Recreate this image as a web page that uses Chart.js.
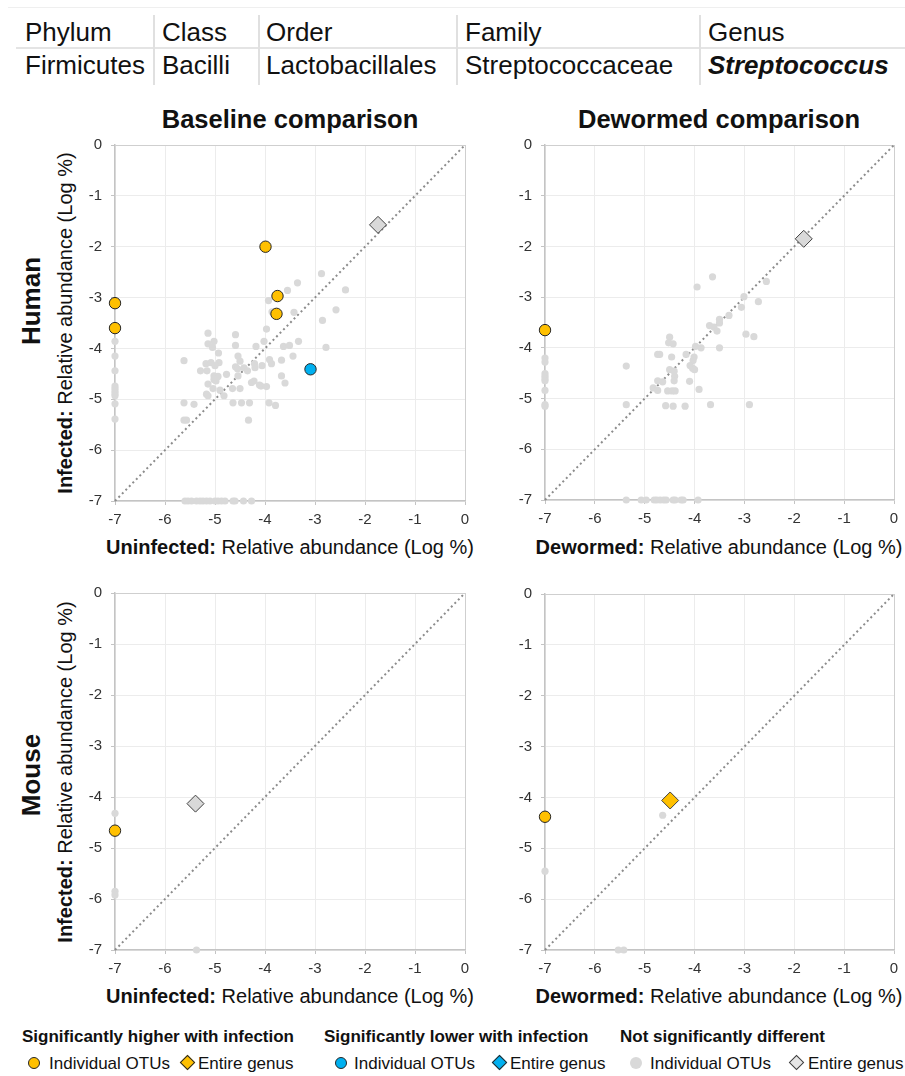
<!DOCTYPE html>
<html><head><meta charset="utf-8">
<script src="https://cdn.jsdelivr.net/npm/chart.js@4.4.0/dist/chart.umd.min.js"></script>
<style>
html,body{margin:0;padding:0;background:#fff;}
body{width:905px;height:1076px;position:relative;overflow:hidden;font-family:"Liberation Sans",Arial,Helvetica,sans-serif;color:#111;}
.a{position:absolute;white-space:nowrap;}
.tb{font-size:26px;line-height:26px;color:#111;}
.hl{position:absolute;background:#e0e0e0;}
.ttl{font-size:25.5px;line-height:26px;font-weight:bold;text-align:center;width:360px;}
.xt{font-size:20px;line-height:20px;text-align:center;width:420px;color:#111;}
.yt{font-size:20px;line-height:20px;text-align:center;width:400px;height:20px;transform:rotate(-90deg);color:#111;}
.row{font-size:26px;line-height:26px;font-weight:bold;text-align:center;width:140px;height:26px;transform:rotate(-90deg);}
.lh{font-size:17px;line-height:17px;font-weight:bold;}
.li{font-size:17px;line-height:17px;}
.mc{position:absolute;width:12px;height:12px;box-sizing:border-box;border-radius:50%;}
.md{position:absolute;width:11px;height:11px;box-sizing:border-box;transform:rotate(45deg);}
canvas{position:absolute;}
</style></head>
<body>
<!-- taxonomy table -->
<div class="hl" style="left:8px;top:7px;width:897px;height:1px;background:#efefef"></div>
<div class="hl" style="left:16px;top:47px;width:889px;height:2px;background:#e4e4e4"></div>
<div class="hl" style="left:153px;top:15px;width:1.5px;height:70px"></div>
<div class="hl" style="left:258px;top:15px;width:1.5px;height:70px"></div>
<div class="hl" style="left:456px;top:15px;width:1.5px;height:70px"></div>
<div class="hl" style="left:699px;top:15px;width:1.5px;height:70px"></div>
<div id="tbl"></div>

<div class="a ttl" style="left:110px;top:106px">Baseline comparison</div>
<div class="a ttl" style="left:539px;top:106px">Dewormed comparison</div>

<div class="a row" style="left:-39px;top:288px">Human</div>
<div class="a row" style="left:-39px;top:762px">Mouse</div>

<div class="a yt" style="left:-135px;top:313px"><b>Infected:</b> Relative abundance (Log %)</div>
<div class="a yt" style="left:-135px;top:762px"><b>Infected:</b> Relative abundance (Log %)</div>

<div class="a xt" style="left:80px;top:537px"><b>Uninfected:</b> Relative abundance (Log %)</div>
<div class="a xt" style="left:509px;top:537px"><b>Dewormed:</b> Relative abundance (Log %)</div>
<div class="a xt" style="left:80px;top:986px"><b>Uninfected:</b> Relative abundance (Log %)</div>
<div class="a xt" style="left:509px;top:986px"><b>Dewormed:</b> Relative abundance (Log %)</div>

<canvas id="c1" width="410" height="400" style="left:70px;top:135px;width:410px;height:400px"></canvas>
<canvas id="c2" width="410" height="400" style="left:500px;top:135px;width:410px;height:400px"></canvas>
<canvas id="c3" width="410" height="400" style="left:70px;top:584px;width:410px;height:400px"></canvas>
<canvas id="c4" width="410" height="400" style="left:500px;top:584px;width:410px;height:400px"></canvas>

<!-- legend -->
<div class="a lh" style="left:22px;top:1028px">Significantly higher with infection</div>
<div class="a lh" style="left:324px;top:1028px">Significantly lower with infection</div>
<div class="a lh" style="left:620px;top:1028px">Not significantly different</div>
<div class="mc" style="left:28px;top:1057px;background:#ffc000;border:1px solid #262626"></div>
<div class="a li" style="left:49px;top:1055px">Individual OTUs</div>
<div class="md" style="left:182px;top:1057px;background:#ffc000;border:1px solid #262626"></div>
<div class="a li" style="left:198px;top:1055px">Entire genus</div>
<div class="mc" style="left:335px;top:1057px;background:#00b0f0;border:1px solid #262626"></div>
<div class="a li" style="left:354px;top:1055px">Individual OTUs</div>
<div class="md" style="left:494px;top:1057px;background:#00b0f0;border:1px solid #262626"></div>
<div class="a li" style="left:510px;top:1055px">Entire genus</div>
<div class="mc" style="left:630px;top:1057px;background:#d9d9d9"></div>
<div class="a li" style="left:650px;top:1055px">Individual OTUs</div>
<div class="md" style="left:791px;top:1057px;background:#e6e6e6;border:1px solid #404040"></div>
<div class="a li" style="left:808px;top:1055px">Entire genus</div>

<script>
// ---------- table text ----------
const taxRanks = ['Phylum','Class','Order','Family','Genus'];
const taxNames = ['Firmicutes','Bacilli','Lactobacillales','Streptococcaceae','Streptococcus'];

// ---------- axis ----------
const axisMin = -7, axisMax = 0, axisStep = 1;
const diagonal = [[-7,-7],[0,0]];

// ---------- Human, baseline comparison (x: uninfected, y: infected) ----------
const hbHigherOTUs = [[-3.99,-2.00],[-3.75,-2.97],[-3.77,-3.32],[-7,-3.11],[-7,-3.60]];
const hbLowerOTUs = [[-3.09,-4.41]];
const hbGenusNS = [[-1.74,-1.57]];
const hbOTUsNS = [
 [-7,-3.86],[-7,-4.15],[-7,-4.44],[-7,-4.74],[-7,-4.79],[-7,-4.84],[-7,-4.89],[-7,-4.93],[-7,-5.09],[-7,-5.39],
 [-5.60,-7],[-5.54,-7],[-5.47,-7],[-5.37,-7],[-5.30,-7],[-5.24,-7],[-5.17,-7],[-5.10,-7],[-5.00,-7],[-4.94,-7],[-4.87,-7],[-4.80,-7],[-4.64,-7],[-4.60,-7],[-4.43,-7],[-4.27,-7],
 [-2.87,-2.53],[-3.35,-2.71],[-3.55,-2.86],[-2.39,-2.85],[-3.93,-3.06],[-3.42,-3.29],[-3.86,-3.28],[-2.58,-3.24],[-2.85,-3.45],[-3.97,-3.62],
 [-5.14,-3.70],[-4.59,-3.73],[-5.02,-3.86],[-5.14,-3.91],[-5.05,-3.98],[-4.59,-3.94],[-4.02,-3.86],[-4.18,-3.96],[-3.63,-3.96],[-3.51,-3.94],
 [-3.33,-3.86],[-2.78,-3.98],[-4.93,-4.09],[-4.54,-4.15],[-3.44,-4.15],[-5.62,-4.24],[-5.18,-4.30],[-5.08,-4.28],[-4.92,-4.28],[-5.00,-4.34],
 [-4.50,-4.25],[-4.59,-4.36],[-4.55,-4.40],[-4.42,-4.38],[-4.35,-4.44],[-4.21,-4.30],[-4.20,-4.38],[-4.06,-4.34],[-3.91,-4.22],[-3.87,-4.30],
 [-3.67,-4.23],[-5.29,-4.44],[-5.16,-4.44],[-5.02,-4.54],[-4.94,-4.55],[-4.77,-4.51],[-4.54,-4.54],[-5.02,-4.61],[-4.98,-4.64],[-5.14,-4.70],
 [-5.04,-4.79],[-4.90,-4.82],[-4.65,-4.79],[-4.50,-4.79],[-4.27,-4.67],[-4.22,-4.64],[-4.11,-4.72],[-4.08,-4.74],[-3.97,-4.75],[-3.67,-4.54],
 [-3.60,-4.68],[-5.17,-4.90],[-5.14,-4.93],[-4.82,-4.93],[-5.62,-5.07],[-5.42,-5.10],[-4.64,-5.07],[-4.47,-5.07],[-4.31,-5.07],[-3.92,-5.07],
 [-3.79,-5.12],[-5.62,-5.41],[-5.57,-5.41],[-4.33,-5.41]
];

// ---------- Human, dewormed comparison (x: dewormed, y: infected) ----------
const hdHigherOTUs = [[-7,-3.65]];
const hdGenusNS = [[-1.81,-1.85]];
const hdOTUsNS = [
 [-7,-4.20],[-7,-4.28],[-7,-4.51],[-7,-4.56],[-7,-4.61],[-7,-4.65],[-7,-4.84],[-7,-5.12],[-7,-5.15],
 [-5.37,-7],[-5.07,-7],[-4.97,-7],[-4.81,-7],[-4.76,-7],[-4.69,-7],[-4.62,-7],[-4.57,-7],[-4.43,-7],[-4.39,-7],[-4.27,-7],[-4.23,-7],[-3.93,-7],
 [-3.64,-2.60],[-3.95,-2.80],[-2.56,-2.69],[-3.01,-2.99],[-2.72,-3.09],[-3.06,-3.20],[-3.31,-3.36],[-3.50,-3.44],[-3.50,-3.51],[-3.70,-3.56],
 [-3.61,-3.59],[-3.55,-3.67],[-2.97,-3.73],[-2.81,-3.78],[-4.50,-3.79],[-4.52,-3.90],[-4.43,-3.92],[-3.98,-3.97],[-3.87,-4.00],[-3.50,-4.00],
 [-4.74,-4.13],[-4.70,-4.13],[-4.46,-4.18],[-4.17,-4.13],[-4.01,-4.18],[-4.03,-4.25],[-4.09,-4.35],[-4.04,-4.40],[-4.00,-4.43],[-5.37,-4.36],
 [-4.50,-4.43],[-4.41,-4.46],[-4.40,-4.56],[-4.74,-4.65],[-4.64,-4.67],[-4.41,-4.65],[-4.10,-4.66],[-4.83,-4.79],[-4.74,-4.84],[-4.54,-4.85],
 [-4.45,-4.85],[-4.39,-4.85],[-3.91,-4.82],[-5.37,-5.12],[-4.58,-5.14],[-4.43,-5.15],[-4.19,-5.15],[-3.68,-5.12],[-2.90,-5.12]
];

// ---------- Mouse, baseline comparison ----------
const mbHigherOTUs = [[-7,-4.66]];
const mbGenusNS = [[-5.39,-4.13]];
const mbOTUsNS = [[-7,-4.32],[-7,-5.85],[-7,-5.92],[-5.37,-7]];

// ---------- Mouse, dewormed comparison ----------
const mdHigherOTUs = [[-7,-4.38]];
const mdGenusHigher = [[-4.49,-4.06]];
const mdOTUsNS = [[-4.64,-4.35],[-7,-5.45],[-5.53,-7],[-5.42,-7]];

// ---------- styles ----------
const FONT = '"Liberation Sans", Arial, Helvetica, sans-serif';
const COL_HIGH = '#ffc000', COL_LOW = '#00b0f0', COL_NS = '#d9d9d9';
Chart.defaults.font.family = FONT;

// table
(function(){
  const lefts = [25, 162, 266, 465, 708];
  let h = '';
  taxRanks.forEach((t,i)=>{ h += `<div class="a tb" style="left:${lefts[i]}px;top:19px">${t}</div>`; });
  taxNames.forEach((t,i)=>{
    const st = i===4 ? 'font-weight:bold;font-style:italic;' : '';
    h += `<div class="a tb" style="left:${lefts[i]}px;top:52px;${st}">${t}</div>`;
  });
  document.getElementById('tbl').innerHTML = h;
})();

const pts = arr => arr.map(p => ({x:p[0], y:p[1]}));

function otuSet(arr, color){
  return {data: pts(arr), pointStyle:'circle', pointRadius:5.7, pointBackgroundColor:color,
          pointBorderColor:'#262626', pointBorderWidth:1, clip:false};
}
function nsSet(arr){
  return {data: pts(arr), pointStyle:'circle', pointRadius:3.6, pointBackgroundColor:COL_NS,
          pointBorderWidth:0, pointBorderColor:COL_NS, clip:false};
}
function genusSet(arr, color){
  return {data: pts(arr), pointStyle:'rectRot', pointRadius:8.5, pointBackgroundColor:color,
          pointBorderColor:'#404040', pointBorderWidth:1, clip:false};
}
function diagSet(){
  return {data: pts(diagonal), showLine:true, borderColor:'#8c8c8c', borderWidth:2,
          borderDash:[2,3], pointRadius:0, fill:false, clip:false};
}

const gridColor = ctx => (ctx.tick && ctx.tick.value === axisMax) ? '#cfcfcf' : '#ececec';

function config(sets){
  return {
    type:'scatter',
    data:{datasets: sets()},
    options:{
      responsive:false, maintainAspectRatio:false, animation:false, events:[],
      layout:{padding:{top:10,right:15,left:0,bottom:0}},
      plugins:{legend:{display:false}, tooltip:{enabled:false}},
      scales:{
        x:{type:'linear', min:axisMin, max:axisMax,
           ticks:{stepSize:axisStep, color:'#333', font:{size:15}, padding:6, maxRotation:0},
           grid:{color:gridColor, lineWidth:1, tickLength:4, tickColor:'#c4c4c4'},
           border:{color:'#c4c4c4', width:1.5},
           afterFit:s=>{s.height=34;}},
        y:{type:'linear', min:axisMin, max:axisMax,
           ticks:{stepSize:axisStep, color:'#333', font:{size:15}, padding:9},
           grid:{color:gridColor, lineWidth:1, tickLength:4, tickColor:'#c4c4c4'},
           border:{color:'#c4c4c4', width:1.5},
           afterFit:s=>{s.width=45;}}
      }
    }
  };
}

// place the chart so its plot area lands on the target rectangle
function makeChart(id, sets, target){
  const cv = document.getElementById(id);
  let W = cv.width, H = cv.height;
  let chart = new Chart(cv, config(sets));
  let a = chart.chartArea;
  const dw = target.w - (a.right - a.left), dh = target.h - (a.bottom - a.top);
  if (Math.abs(dw) > 0.5 || Math.abs(dh) > 0.5){
    chart.destroy();
    W = Math.round(W + dw); H = Math.round(H + dh);
    cv.width = W; cv.height = H; cv.style.width = W + 'px'; cv.style.height = H + 'px';
    chart = new Chart(cv, config(sets));
    a = chart.chartArea;
  }
  cv.style.left = (target.x - a.left) + 'px';
  cv.style.top = (target.y - a.top) + 'px';
}

makeChart('c1', () => [otuSet(hbHigherOTUs, COL_HIGH), otuSet(hbLowerOTUs, COL_LOW), genusSet(hbGenusNS, COL_NS), nsSet(hbOTUsNS), diagSet()], {x:115, y:145, w:350, h:356});
makeChart('c2', () => [otuSet(hdHigherOTUs, COL_HIGH), genusSet(hdGenusNS, COL_NS), nsSet(hdOTUsNS), diagSet()], {x:545, y:145, w:349, h:355});
makeChart('c3', () => [otuSet(mbHigherOTUs, COL_HIGH), genusSet(mbGenusNS, COL_NS), nsSet(mbOTUsNS), diagSet()], {x:115, y:593, w:350, h:357});
makeChart('c4', () => [otuSet(mdHigherOTUs, COL_HIGH), genusSet(mdGenusHigher, COL_HIGH), nsSet(mdOTUsNS), diagSet()], {x:545, y:594, w:349, h:356});
</script>
</body></html>
